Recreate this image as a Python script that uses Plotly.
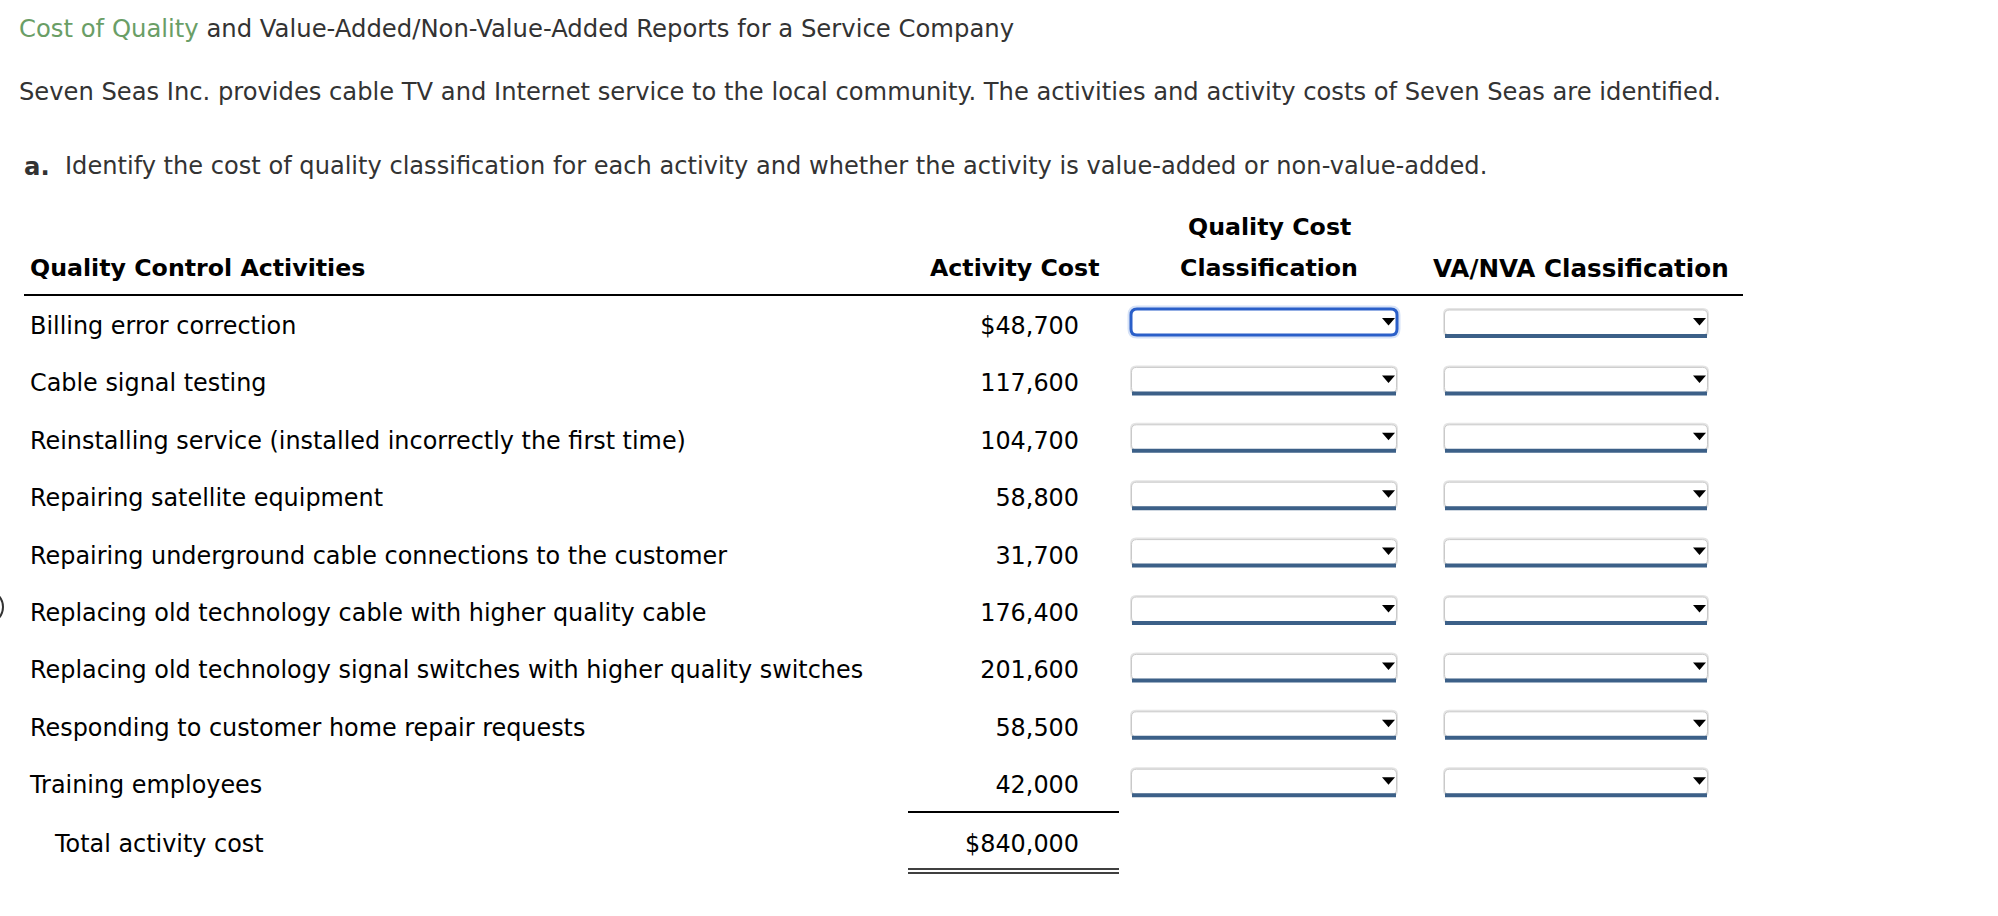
import plotly.graph_objects as go

# ---------------- data ----------------
activities = [
    "Billing error correction",
    "Cable signal testing",
    "Reinstalling service (installed incorrectly the first time)",
    "Repairing satellite equipment",
    "Repairing underground cable connections to the customer",
    "Replacing old technology cable with higher quality cable",
    "Replacing old technology signal switches with higher quality switches",
    "Responding to customer home repair requests",
    "Training employees",
]
cost_labels = ["$48,700", "117,600", "104,700", "58,800", "31,700",
               "176,400", "201,600", "58,500", "42,000"]
total_label = "Total activity cost"
total_value = "$840,000"
headers = ["Quality Control Activities", "Activity Cost",
           "Quality Cost", "Classification", "VA/NVA Classification"]
title_green = "Cost of Quality"
title_rest = " and Value-Added/Non-Value-Added Reports for a Service Company"
intro = ("Seven Seas Inc. provides cable TV and Internet service to the local community. "
         "The activities and activity costs of Seven Seas are identified.")
question = "Identify the cost of quality classification for each activity and whether the activity is value-added or non-value-added."

# ---------------- layout helpers ----------------
W, H = 1998, 916
FONT = "DejaVu Sans, Verdana, sans-serif"
ROW0, DY = 325, 57.4
row_y = [ROW0 + i * DY for i in range(len(activities))]
TEXT_DY = 3
TOTAL_Y = 846

fig = go.Figure()

fig.add_trace(go.Scatter(
    x=[30] * len(activities), y=[y + TEXT_DY for y in row_y], text=activities, mode="text",
    textposition="middle right", hoverinfo="skip",
    textfont=dict(family=FONT, size=23.9, color="#000000")))
fig.add_trace(go.Scatter(
    x=[1079] * len(cost_labels), y=[y + TEXT_DY for y in row_y], text=cost_labels, mode="text",
    textposition="middle left", hoverinfo="skip",
    textfont=dict(family=FONT, size=23.9, color="#000000")))
fig.add_trace(go.Scatter(
    x=[55, 1079], y=[TOTAL_Y, TOTAL_Y], text=[total_label, total_value], mode="text",
    textposition=["middle right", "middle left"], hoverinfo="skip",
    textfont=dict(family=FONT, size=23.9, color="#000000")))

ann = []
ann.append(dict(x=17, y=28, xanchor="left", yanchor="middle",
                text=f'<span style="color:#6a9e66">{title_green}</span>{title_rest}',
                font=dict(family=FONT, size=24.3, color="#333333")))
ann.append(dict(x=17, y=92, xanchor="left", yanchor="middle", text=intro,
                font=dict(family=FONT, size=24.2, color="#333333")))
ann.append(dict(x=22, y=166, xanchor="left", yanchor="middle", text="<b>a.</b>",
                font=dict(family=FONT, size=24.3, color="#333333")))
ann.append(dict(x=63, y=166, xanchor="left", yanchor="middle", text=question,
                font=dict(family=FONT, size=24.1, color="#333333")))
hfont = dict(family=FONT, size=23.7, color="#000000")
ann.append(dict(x=28, y=268, xanchor="left", yanchor="middle", text=f"<b>{headers[0]}</b>", font=hfont))
ann.append(dict(x=1101, y=268, xanchor="right", yanchor="middle", text=f"<b>{headers[1]}</b>", font=hfont))
ann.append(dict(x=1269, y=227, xanchor="center", yanchor="middle", text=f"<b>{headers[2]}</b>", font=hfont))
ann.append(dict(x=1269, y=268, xanchor="center", yanchor="middle", text=f"<b>{headers[3]}</b>", font=hfont))
ann.append(dict(x=1581, y=268, xanchor="center", yanchor="middle", text=f"<b>{headers[4]}</b>",
                font=dict(family=FONT, size=24.6, color="#000000")))
for a in ann:
    a.update(xref="x", yref="y", showarrow=False)

shapes = []
# header rule
shapes.append(dict(type="line", x0=24, x1=1743, y0=295, y1=295, line=dict(color="#000", width=2)))
# total rules
shapes.append(dict(type="line", x0=908, x1=1119, y0=812, y1=812, line=dict(color="#000", width=2)))
shapes.append(dict(type="line", x0=908, x1=1119, y0=869, y1=869, line=dict(color="#000", width=1.5)))
shapes.append(dict(type="line", x0=908, x1=1119, y0=873, y1=873, line=dict(color="#000", width=1.5)))


def rrect(x0, y0, x1, y1, r):
    return (f"M {x0+r},{y0} L {x1-r},{y0} Q {x1},{y0} {x1},{y0+r} "
            f"L {x1},{y1-r} Q {x1},{y1} {x1-r},{y1} L {x0+r},{y1} "
            f"Q {x0},{y1} {x0},{y1-r} L {x0},{y0+r} Q {x0},{y0} {x0+r},{y0} Z")


cols = [(1131, 1397), (1444, 1708)]
for i, yc in enumerate(row_y):
    for j, (x0, x1) in enumerate(cols):
        if i == 0 and j == 0:
            shapes.append(dict(type="path", path=rrect(x0 - 1, yc - 17, x1 + 1, yc + 11, 7),
                               line=dict(color="#d6e2f7", width=5), fillcolor="white"))
            shapes.append(dict(type="path", path=rrect(x0, yc - 16, x1, yc + 10, 6),
                               line=dict(color="#2a5fc9", width=3), fillcolor="white"))
        else:
            shapes.append(dict(type="path", path=rrect(x0, yc - 16, x1, yc + 11, 5),
                               line=dict(color="#e4e4e4", width=2), fillcolor="white"))
            shapes.append(dict(type="path", path=rrect(x0 + 0.5, yc - 15, x1 - 0.5, yc + 10, 5),
                               line=dict(color="#c9c9c9", width=1), fillcolor="white"))
            shapes.append(dict(type="rect", x0=x0 + 1, x1=x1 - 1, y0=yc + 9, y1=yc + 13,
                               line=dict(width=0), fillcolor="#3c6088"))
        tx1 = x1 - 2
        shapes.append(dict(type="path",
                           path=f"M {tx1-13},{yc-7} L {tx1},{yc-7} L {tx1-6.5},{yc+0.5} Z",
                           line=dict(width=0), fillcolor="#000000"))

# partial circle at left edge
shapes.append(dict(type="circle", x0=-32, x1=3, y0=590, y1=624,
                   line=dict(color="#333333", width=2), fillcolor="rgba(0,0,0,0)"))

fig.update_layout(
    width=W, height=H, margin=dict(l=0, r=0, t=0, b=0),
    paper_bgcolor="white", plot_bgcolor="white", showlegend=False,
    annotations=ann, shapes=shapes,
    xaxis=dict(range=[0, W], visible=False, fixedrange=True),
    yaxis=dict(range=[H, 0], visible=False, fixedrange=True),
)

fig.write_html("out.html", config={"displayModeBar": False},
               post_script="document.body.style.margin='0';document.body.style.overflow='hidden';")
